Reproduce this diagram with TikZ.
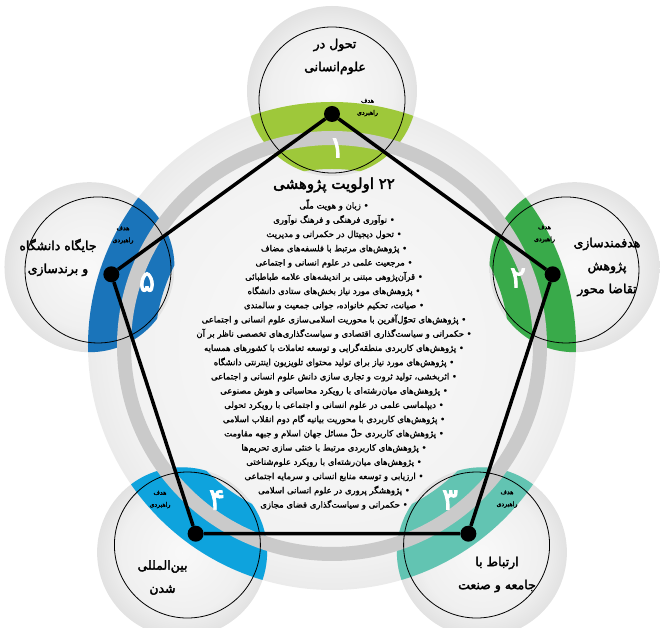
\documentclass[tikz,border=0pt]{standalone}
\usepackage{fontspec}
\usepackage{tikz}
\newfontfamily\fafont[Script=Arabic,FakeBold=1.5]{DejaVu Sans}
\newfontfamily\fabold[Script=Arabic,FakeBold=2.5]{DejaVu Sans}
\TeXXeTstate=1
\newcommand\rtl[1]{\beginR#1\endR}
\def\zw{^^^^200c}
\definecolor{limeband}{RGB}{158,200,58}
\definecolor{greenband}{RGB}{57,170,74}
\definecolor{tealband}{RGB}{98,196,178}
\definecolor{cyanband}{RGB}{14,163,221}
\definecolor{blueband}{RGB}{26,116,186}
\definecolor{ringgray}{RGB}{202,202,202}
\pgfdeclareradialshading{bigdisk}{\pgfpoint{0bp}{0bp}}{color(0bp)=(gray!4); color(22bp)=(gray!11); color(29bp)=(gray!22); color(35bp)=(gray!29); color(50bp)=(gray!29)}
\pgfdeclareradialshading{smalldisk}{\pgfpoint{0bp}{0bp}}{color(0bp)=(gray!5); color(18bp)=(gray!12); color(35bp)=(gray!38); color(50bp)=(gray!38)}
\def\bandpiece[#1](#2){\begin{scope}\clip (#2) circle (85);\fill[#1,even odd rule] (0,0) circle (244) (0,0) circle (177);\end{scope}}
\tikzset{
	goalring/.style={draw=black,line width=0.8pt},
	vertexdot/.style={circle,fill=black,inner sep=0pt,minimum size=16pt},
	pentaedge/.style={line width=3.5pt,black},
	headtext/.style={align=center,inner sep=0pt,font=\fabold\fontsize{12.5}{23}\selectfont},
	goaltext/.style={align=center,inner sep=0pt,font=\fabold\fontsize{6.2}{12}\selectfont},
	numtext/.style={inner sep=0pt,text=white,font=\fabold\fontsize{30}{30}\selectfont},
	titletext/.style={inner sep=0pt,font=\fabold\fontsize{15}{18}\selectfont},
	listtext/.style={align=center,inner sep=0pt,font=\fafont\fontsize{8.5}{14.24}\selectfont}
}

\begin{document}
\begin{tikzpicture}[x=1pt,y=1pt]
				\useasboundingbox (-332,-282) rectangle (332,346);
				
				\shade[shading=bigdisk] (0,0) circle (244);
				
				\shade[shading=smalldisk] (90:255) circle (85);
				\shade[shading=smalldisk] (18:255) circle (85);
				\shade[shading=smalldisk] (-54:255) circle (85);
				\shade[shading=smalldisk] (-126:255) circle (85);
				\shade[shading=smalldisk] (162:255) circle (85);
				
				\bandpiece[limeband](90:255)
				\bandpiece[greenband](18:255)
				\bandpiece[tealband](-54:255)
				\bandpiece[cyanband](-126:255)
				\bandpiece[blueband](162:255)
				
				\draw[ringgray,line width=14pt] (0,0) circle (208);
				
				\draw[goalring] (90:246) circle (73);
				\draw[goalring] (18:246) circle (73);
				\draw[goalring] (-54:246) circle (73);
				\draw[goalring] (-126:246) circle (73);
				\draw[goalring] (162:246) circle (73);
				
				\node[vertexdot] (v1) at (90:232) {};
				\node[vertexdot] (v2) at (18:232) {};
				\node[vertexdot] (v3) at (-54:232) {};
				\node[vertexdot] (v4) at (-126:232) {};
				\node[vertexdot] (v5) at (162:232) {};
				\draw[pentaedge] (v1) -- (v2) -- (v3) -- (v4) -- (v5) -- (v1);
				
				\node[headtext] (head1) at (3,289.5) {\rtl{تحول در}\\\rtl{علوم\zw انسانی}};
				\node[headtext] (head2) at (275,79) {\rtl{هدفمندسازی}\\\rtl{پژوهش}\\\rtl{تقاضا محور}};
				\node[headtext] (head3) at (165,-228.5) {\rtl{ارتباط با}\\\rtl{جامعه و صنعت}};
				\node[headtext] (head4) at (-169.5,-231.5) {\rtl{بین\zw المللی}\\\rtl{شدن}};
				\node[headtext] (head5) at (-274,88.5) {\rtl{جایگاه دانشگاه}\\\rtl{و برندسازی}};
				
				\node[goaltext] (goal1) at (35.5,238.5) {\rtl{هدف}\\\rtl{راهبردی}};
				\node[goaltext] (goal2) at (212.5,112) {\rtl{هدف}\\\rtl{راهبردی}};
				\node[goaltext] (goal3) at (175,-153) {\rtl{هدف}\\\rtl{راهبردی}};
				\node[goaltext] (goal4) at (-172,-153.5) {\rtl{هدف}\\\rtl{راهبردی}};
				\node[goaltext] (goal5) at (-209,111) {\rtl{هدف}\\\rtl{راهبردی}};
				
				\node[numtext] (num1) at (5,198) {۱};
				\node[numtext] (num2) at (186,68) {۲};
				\node[numtext] (num3) at (118,-154) {۳};
				\node[numtext] (num4) at (-115,-154) {۴};
				\node[numtext] (num5) at (-185,64) {۵};
				
				\node[titletext] (title) at (2,161) {\rtl{۲۲ اولویت پژوهشی}};
				\node[listtext] (items) at (2,-8.5) {\rtl{• زبان و هویت ملّی}\\
					\rtl{• نوآوری فرهنگی و فرهنگ نوآوری}\\
					\rtl{• تحول دیجیتال در حکمرانی و مدیریت}\\
					\rtl{• پژوهش\zw های مرتبط با فلسفه\zw های مضاف}\\
					\rtl{• مرجعیت علمی در علوم انسانی و اجتماعی}\\
					\rtl{• قرآن\zw پژوهی مبتنی بر اندیشه\zw های علامه طباطبائی}\\
					\rtl{• پژوهش\zw های مورد نیاز بخش\zw های ستادی دانشگاه}\\
					\rtl{• صیانت، تحکیم خانواده، جوانی جمعیت و سالمندی}\\
					\rtl{• پژوهش\zw های تحوّل\zw آفرین با محوریت اسلامی\zw سازی علوم انسانی و اجتماعی}\\
					\rtl{• حکمرانی و سیاست\zw گذاری اقتصادی و سیاست\zw گذاری\zw های تخصصی ناظر بر آن}\\
					\rtl{• پژوهش\zw های کاربردی منطقه\zw گرایی و توسعه تعاملات با کشورهای همسایه}\\
					\rtl{• پژوهش\zw های مورد نیاز برای تولید محتوای تلویزیون اینترنتی دانشگاه}\\
					\rtl{• اثربخشی، تولید ثروت و تجاری سازی دانش علوم انسانی و اجتماعی}\\
					\rtl{• پژوهش\zw های میان\zw رشته\zw ای با رویکرد محاسباتی و هوش مصنوعی}\\
					\rtl{• دیپلماسی علمی در علوم انسانی و اجتماعی با رویکرد تحولی}\\
					\rtl{• پژوهش\zw های کاربردی با محوریت بیانیه گام دوم انقلاب اسلامی}\\
					\rtl{• پژوهش\zw های کاربردی حلّ مسائل جهان اسلام و جبهه مقاومت}\\
					\rtl{• پژوهش\zw های کاربردی مرتبط با خنثی سازی تحریم\zw ها}\\
					\rtl{• پژوهش\zw های میان\zw رشته\zw ای با رویکرد علوم\zw شناختی}\\
					\rtl{• ارزیابی و توسعه منابع انسانی و سرمایه اجتماعی}\\
					\rtl{• پژوهشگر پروری در علوم انسانی اسلامی}\\
					\rtl{• حکمرانی و سیاست\zw گذاری فضای مجازی}};
\end{tikzpicture}
\end{document}
